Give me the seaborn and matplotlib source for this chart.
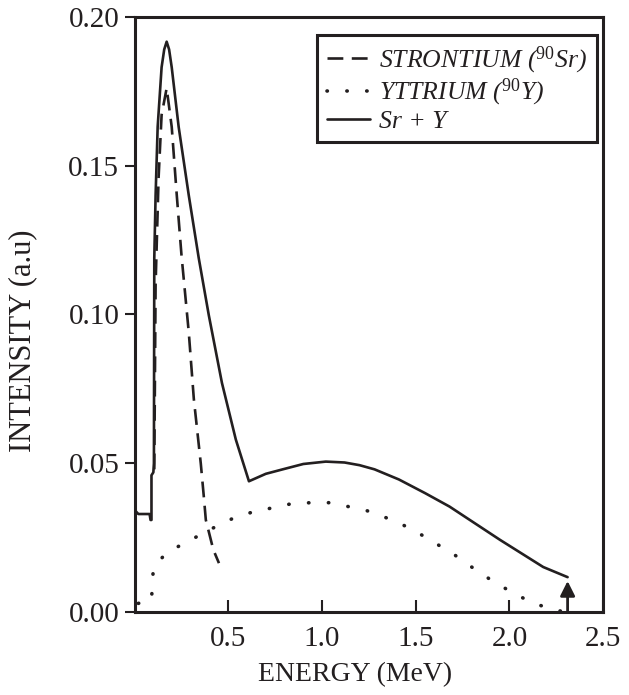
import numpy as np
import pandas as pd
import matplotlib
matplotlib.use('Agg')
import matplotlib.pyplot as plt
import seaborn as sns

# --- values (energy in MeV, intensity in a.u.) ---
srY_energy = [0.005, 0.005, 0.02, 0.08, 0.085, 0.09, 0.09, 0.10, 0.103, 0.105,
              0.112, 0.123, 0.144, 0.158, 0.171, 0.184, 0.198, 0.235, 0.289, 0.342,
              0.396, 0.466, 0.54, 0.61, 0.70, 0.79, 0.90, 1.02, 1.12, 1.20, 1.28,
              1.41, 1.55, 1.68, 1.95, 2.18, 2.31]
srY_int = [0.028, 0.034, 0.033, 0.033, 0.031, 0.031, 0.046, 0.047, 0.050, 0.119,
           0.140, 0.163, 0.183, 0.189, 0.1916, 0.189, 0.183, 0.163, 0.140, 0.119,
           0.0997, 0.077, 0.058, 0.044, 0.0465, 0.048, 0.0498, 0.0506, 0.0503, 0.0494, 0.048,
           0.0446, 0.040, 0.0355, 0.0243, 0.0152, 0.0118]

sr_energy = [0.105, 0.112, 0.128, 0.144, 0.171, 0.198, 0.225, 0.25, 0.289, 0.316,
             0.353, 0.369, 0.38, 0.42, 0.45]
sr_int = [0.048, 0.110, 0.146, 0.167, 0.176, 0.163, 0.140, 0.120, 0.094, 0.0716,
          0.050, 0.039, 0.031, 0.021, 0.0165]

y_energy = [0.02, 0.09, 0.10, 0.17, 0.26, 0.35, 0.44, 0.53, 0.636, 0.738, 0.84,
            0.94, 1.04, 1.14, 1.24, 1.34, 1.43, 1.52, 1.61, 1.70, 1.78, 1.86,
            1.95, 2.04, 2.13, 2.22, 2.30]
y_int = [0.003, 0.004, 0.015, 0.020, 0.023, 0.026, 0.029, 0.0317, 0.0338, 0.0351,
         0.0365, 0.0368, 0.0368, 0.0355, 0.0341, 0.0318, 0.0294, 0.0264, 0.023, 0.0196,
         0.016, 0.0125, 0.009, 0.0058, 0.003, 0.0012, 0.0]

END_POINT = 2.31      # endpoint marker (arrow)
ARROW_TOP = 0.0105

x_ticks = [0.5, 1.0, 1.5, 2.0, 2.5]
y_ticks = [0.00, 0.05, 0.10, 0.15, 0.20]

INK = '#231f20'

sns.set_theme(style='ticks')
plt.rcParams['font.family'] = ['Liberation Serif', 'DejaVu Serif']
plt.rcParams['mathtext.fontset'] = 'custom'
plt.rcParams['mathtext.rm'] = 'Liberation Serif'
plt.rcParams['mathtext.it'] = 'Liberation Serif:italic'
plt.rcParams['mathtext.default'] = 'it'

fig, ax = plt.subplots(figsize=(6.29, 6.95), dpi=100)
fig.subplots_adjust(left=0.214, right=0.959, bottom=0.119, top=0.976)

sr = pd.DataFrame({'energy': sr_energy, 'intensity': sr_int})
yt = pd.DataFrame({'energy': y_energy, 'intensity': y_int})
tot = pd.DataFrame({'energy': srY_energy, 'intensity': srY_int})

sns.lineplot(data=sr, x='energy', y='intensity', sort=False, estimator=None, ax=ax,
             color=INK, lw=1.9, linestyle=(0, (6, 3.2)),
             label=r'STRONTIUM ($^{90}$Sr)')
sns.lineplot(data=yt, x='energy', y='intensity', sort=False, estimator=None, ax=ax,
             color=INK, lw=2.6, linestyle=(0, (0.1, 5.4)), dash_capstyle='round',
             label=r'YTTRIUM ($^{90}$Y)')
sns.lineplot(data=tot, x='energy', y='intensity', sort=False, estimator=None, ax=ax,
             color=INK, lw=1.9, label='Sr + Y')

ax.annotate('', xy=(END_POINT, ARROW_TOP), xytext=(END_POINT, 0.0),
            arrowprops=dict(arrowstyle='-|>', color=INK, lw=2.0, mutation_scale=22,
                            shrinkA=0, shrinkB=0))

ax.set_xlim(0, 2.5)
ax.set_ylim(0, 0.2)
ax.set_xticks(x_ticks)
ax.set_yticks(y_ticks)
ax.set_xticklabels([f'{v:.1f}' for v in x_ticks])
ax.set_yticklabels([f'{v:.2f}' for v in y_ticks])
ax.tick_params(axis='x', direction='in', length=9, width=1.5, pad=10,
               labelsize=21, colors=INK)
ax.tick_params(axis='y', direction='out', length=7, width=1.5, pad=4,
               labelsize=21, colors=INK)
for s in ax.spines.values():
    s.set_visible(True)
    s.set_linewidth(2.2)
    s.set_color(INK)

ax.set_xlabel('ENERGY (MeV)', fontsize=20, color=INK)
ax.xaxis.set_label_coords(0.47, -0.083)
ax.set_ylabel('INTENSITY (a.u)', fontsize=22, color=INK)
ax.yaxis.set_label_coords(-0.208, 0.456)

leg = ax.legend(loc='upper right', bbox_to_anchor=(0.987, 0.97), borderaxespad=0,
                frameon=True, fancybox=False, framealpha=1, edgecolor=INK,
                prop={'style': 'italic', 'size': 18.5}, handlelength=1.7,
                handletextpad=0.35, borderpad=0.38, labelspacing=0.05)
leg.get_frame().set_linewidth(2.2)
for t in leg.get_texts():
    t.set_color(INK)

fig.savefig('out.png', dpi=100, facecolor='white')
plt.close(fig)
